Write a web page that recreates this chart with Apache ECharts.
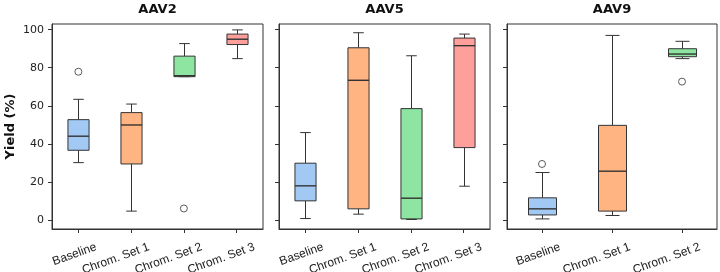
<!DOCTYPE html>
<html>
<head>
<meta charset="utf-8">
<script src="https://cdn.jsdelivr.net/npm/echarts@6/dist/echarts.min.js"></script>
<style>
  html, body { margin: 0; padding: 0; background: #fff; }
  #chart { width: 720px; height: 272px; }
</style>
</head>
<body>
<div id="chart"></div>
<script>
// categories for each panel
const cats4 = ['Baseline', 'Chrom. Set 1', 'Chrom. Set 2', 'Chrom. Set 3'];
const cats3 = ['Baseline', 'Chrom. Set 1', 'Chrom. Set 2'];
const yTicks = [0, 20, 40, 60, 80, 100];

// box stats: [min, q1, median, q3, max]
const aav2Boxes = [
  [30.1, 36.6, 44.0, 52.7, 63.4],
  [4.6, 29.4, 49.9, 56.4, 60.9],
  [75.3, 75.3, 75.8, 86.1, 92.7],
  [84.8, 92.2, 95.0, 97.7, 99.9]
];
const aav2Outliers = [[0, 77.9], [2, 6.0]];

const aav5Boxes = [
  [0.7, 10.0, 17.9, 29.8, 45.9],
  [3.0, 5.8, 73.4, 90.5, 98.4],
  [0.2, 0.5, 11.4, 58.5, 86.3],
  [17.7, 38.0, 91.6, 95.6, 97.7]
];
const aav5Outliers = [];

const aav9Boxes = [
  [0.5, 2.6, 5.8, 11.6, 24.9],
  [2.3, 4.6, 25.6, 49.7, 97.0],
  [84.8, 85.8, 87.2, 90.0, 93.9]
];
const aav9Outliers = [[0, 29.4], [2, 72.7]];

const titles = ['AAV2', 'AAV5', 'AAV9'];
const boxColors = ['#a1c9f4', '#ffb482', '#8de5a1', '#ff9f9b'];
const edge = '#333333';

const grids = [
  { left: 52, top: 24, width: 211, height: 205 },
  { left: 279, top: 24, width: 211, height: 205 },
  { left: 507, top: 24, width: 210, height: 205 }
];

function renderBox(params, api) {
  const x = api.value(0);
  const band = api.size([1, 0])[0];
  const w = band * 0.4;
  const pMin = api.coord([x, api.value(1)]);
  const pQ1 = api.coord([x, api.value(2)]);
  const pMed = api.coord([x, api.value(3)]);
  const pQ3 = api.coord([x, api.value(4)]);
  const pMax = api.coord([x, api.value(5)]);
  const cx = Math.round(pMin[0]) + 0.5;
  const ln = { stroke: edge, lineWidth: 1 };
  return {
    type: 'group',
    children: [
      { type: 'line', shape: { x1: cx, y1: pMin[1], x2: cx, y2: pQ1[1] }, style: ln },
      { type: 'line', shape: { x1: cx, y1: pQ3[1], x2: cx, y2: pMax[1] }, style: ln },
      { type: 'line', shape: { x1: cx - w / 4, y1: pMin[1], x2: cx + w / 4, y2: pMin[1] }, style: ln },
      { type: 'line', shape: { x1: cx - w / 4, y1: pMax[1], x2: cx + w / 4, y2: pMax[1] }, style: ln },
      {
        type: 'rect',
        shape: { x: cx - w / 2, y: pQ3[1], width: w, height: pQ1[1] - pQ3[1] },
        style: { fill: boxColors[params.dataIndex], stroke: edge, lineWidth: 1 }
      },
      { type: 'line', shape: { x1: cx - w / 2, y1: pMed[1], x2: cx + w / 2, y2: pMed[1] }, style: { stroke: edge, lineWidth: 1.4 } }
    ]
  };
}

const chart = echarts.init(document.getElementById('chart'));

const panels = [
  { cats: cats4, boxes: aav2Boxes, outliers: aav2Outliers },
  { cats: cats4, boxes: aav5Boxes, outliers: aav5Outliers },
  { cats: cats3, boxes: aav9Boxes, outliers: aav9Outliers }
];

const option = {
  backgroundColor: '#fff',
  animation: false,
  title: titles.map((t, i) => ({
    text: t,
    left: grids[i].left + grids[i].width / 2,
    top: 3,
    padding: 0,
    textAlign: 'center',
    textStyle: { fontFamily: 'DejaVu Sans', fontWeight: 'bold', fontSize: 13, color: '#111' }
  })),
  grid: grids.map(g => Object.assign({
    show: true, borderColor: edge, borderWidth: 1,
    containLabel: false, outerBoundsMode: 'none'
  }, g)),
  xAxis: panels.map((p, i) => ({
    type: 'category',
    gridIndex: i,
    data: p.cats,
    boundaryGap: true,
    axisLine: { show: true, onZero: false, lineStyle: { color: edge } },
    axisTick: { show: true, alignWithLabel: true, length: 4, lineStyle: { color: edge } },
    axisLabel: {
      rotate: 20,
      align: 'right',
      verticalAlign: 'middle',
      padding: [0, -19, 0, 0],
      margin: 24,
      interval: 0,
      fontFamily: 'Liberation Sans',
      fontSize: 12,
      color: '#222'
    },
    splitLine: { show: false }
  })),
  yAxis: panels.map((p, i) => ({
    type: 'value',
    gridIndex: i,
    min: -4.8,
    max: 103,
    name: i === 0 ? 'Yield (%)' : '',
    nameLocation: 'middle',
    nameGap: 35,
    nameTextStyle: { fontFamily: 'DejaVu Sans', fontWeight: 'bold', fontSize: 13, color: '#111' },
    axisLine: { show: true, lineStyle: { color: edge } },
    axisTick: { show: true, length: 4, customValues: yTicks, lineStyle: { color: edge } },
    axisLabel: {
      show: i === 0,
      customValues: yTicks,
      margin: 8,
      fontFamily: 'DejaVu Sans',
      fontSize: 11,
      color: '#222'
    },
    splitLine: { show: false }
  })),
  series: []
};

panels.forEach((p, i) => {
  option.series.push({
    type: 'custom',
    xAxisIndex: i,
    yAxisIndex: i,
    renderItem: renderBox,
    encode: { x: 0, y: [1, 2, 3, 4, 5] },
    data: p.boxes.map((b, k) => [k].concat(b)),
    z: 2
  });
  option.series.push({
    type: 'scatter',
    xAxisIndex: i,
    yAxisIndex: i,
    symbol: 'circle',
    symbolSize: 7,
    itemStyle: { color: 'rgba(255,255,255,0)', borderColor: edge, borderWidth: 1 },
    data: p.outliers,
    z: 3
  });
});

chart.setOption(option);
</script>
</body>
</html>
